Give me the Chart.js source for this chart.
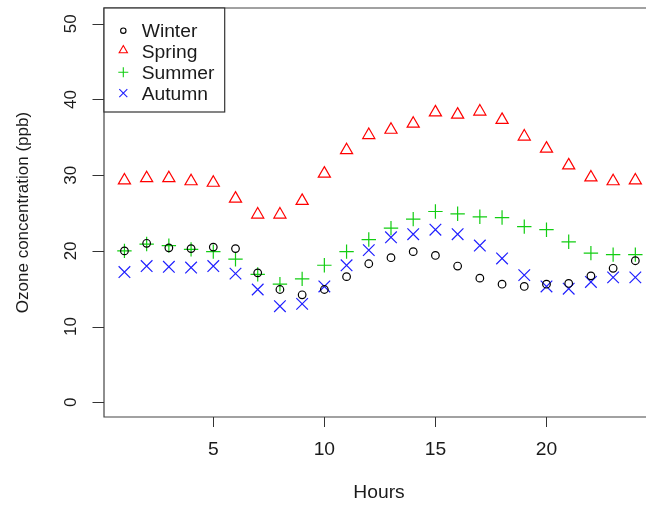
<!DOCTYPE html>
<html>
<head>
<meta charset="utf-8">
<script src="https://cdn.jsdelivr.net/npm/chart.js@4.4.0/dist/chart.umd.min.js"></script>
<style>
  html, body { margin: 0; padding: 0; background: #fff; }
  #wrap { width: 646px; height: 505px; }
</style>
</head>
<body>
<div id="wrap"><canvas id="ozone" width="646" height="505"></canvas></div>
<script>
const hours = [1, 2, 3, 4, 5, 6, 7, 8, 9, 10, 11, 12, 13, 14, 15, 16, 17, 18, 19, 20, 21, 22, 23, 24];
const winter = [20.0, 21.0, 20.4, 20.3, 20.5, 20.3, 17.1, 14.9, 14.2, 14.9, 16.6, 18.3, 19.1, 19.9, 19.4, 18.0, 16.4, 15.6, 15.3, 15.6, 15.7, 16.7, 17.7, 18.7];
const spring = [29.3, 29.6, 29.6, 29.2, 29.0, 26.9, 24.8, 24.8, 26.6, 30.2, 33.3, 35.3, 36.0, 36.8, 38.3, 38.0, 38.4, 37.3, 35.1, 33.5, 31.3, 29.7, 29.2, 29.3];
const summer = [20.0, 20.9, 20.7, 20.2, 19.9, 18.9, 16.9, 15.6, 16.3, 18.1, 19.9, 21.5, 23.0, 24.2, 25.2, 24.9, 24.5, 24.4, 23.2, 22.8, 21.2, 19.7, 19.5, 19.5];
const autumn = [17.2, 18.0, 17.9, 17.8, 18.0, 17.0, 14.9, 12.7, 13.0, 15.3, 18.1, 20.1, 21.8, 22.2, 22.8, 22.2, 20.7, 19.0, 16.8, 15.3, 15.0, 15.9, 16.5, 16.5];
const xTicks = [5, 10, 15, 20];
const yTicks = [0, 10, 20, 30, 40, 50];
const seasons = ['Winter', 'Spring', 'Summer', 'Autumn'];

const FONT = '"Liberation Sans", Arial, sans-serif';
const INK = '#1a1a1a';

const series = [
    { label: 'Winter', values: winter, color: '#000000', style: 'circle', radius: 3.8 },
    { label: 'Spring', values: spring, color: '#ff0000', style: 'triangle', radius: 7 },
    { label: 'Summer', values: summer, color: '#12cd12', style: 'cross', radius: 7.2 },
    { label: 'Autumn', values: autumn, color: '#1f1fff', style: 'crossRot', radius: 8.2 }
];

// texte legerement elargi comme dans l'image d'origine
function wideText(ctx, txt, x, y, sx) {
    ctx.save();
    ctx.translate(x, y);
    ctx.scale(sx, 1);
    ctx.fillText(txt, 0, 0);
    ctx.restore();
}

function legendMark(ctx, style, color, x, y) {
    ctx.save();
    ctx.strokeStyle = color;
    ctx.lineWidth = 1.1;
    ctx.beginPath();
    if (style === 'circle') {
        ctx.arc(x, y, 2.7, 0, Math.PI * 2);
    } else if (style === 'triangle') {
        const r = 4.8, cy = y - r / 4;
        ctx.moveTo(x, cy - r);
        ctx.lineTo(x + r * 0.866, cy + r / 2);
        ctx.lineTo(x - r * 0.866, cy + r / 2);
        ctx.closePath();
    } else if (style === 'cross') {
        ctx.moveTo(x - 5, y); ctx.lineTo(x + 5, y);
        ctx.moveTo(x, y - 5); ctx.lineTo(x, y + 5);
    } else {
        ctx.moveTo(x - 4, y - 4); ctx.lineTo(x + 4, y + 4);
        ctx.moveTo(x - 4, y + 4); ctx.lineTo(x + 4, y - 4);
    }
    ctx.stroke();
    ctx.restore();
}

// Axes, cadre et legende facon R base graphics
const rAxesPlugin = {
    id: 'rAxes',
    afterDatasetsDraw(chart) {
        const { ctx, chartArea } = chart;
        const xs = chart.scales.x;
        const ys = chart.scales.y;
        const L = chartArea.left, T = chartArea.top, B = chartArea.bottom, R = chart.width;

        ctx.save();
        // cadre (le bord droit est coupe)
        ctx.strokeStyle = '#444';
        ctx.lineWidth = 1.2;
        ctx.beginPath();
        ctx.moveTo(R, T); ctx.lineTo(L, T); ctx.lineTo(L, B); ctx.lineTo(R, B);
        ctx.stroke();

        // graduations
        ctx.strokeStyle = '#333';
        ctx.lineWidth = 1;
        ctx.beginPath();
        xTicks.forEach(v => {
            const px = Math.round(xs.getPixelForValue(v)) + 0.5;
            ctx.moveTo(px, B); ctx.lineTo(px, B + 10);
        });
        yTicks.forEach(v => {
            const py = Math.round(ys.getPixelForValue(v)) + 0.5;
            ctx.moveTo(L, py); ctx.lineTo(L - 11.5, py);
        });
        ctx.stroke();

        ctx.fillStyle = INK;
        ctx.font = '18px ' + FONT;
        ctx.textAlign = 'center';
        ctx.textBaseline = 'alphabetic';
        xTicks.forEach(v => wideText(ctx, String(v), xs.getPixelForValue(v), 454.8, 1.07));
        wideText(ctx, 'Hours', 379, 498, 1.07);

        ctx.font = '17px ' + FONT;
        yTicks.forEach(v => {
            ctx.save();
            ctx.translate(76, ys.getPixelForValue(v));
            ctx.rotate(-Math.PI / 2);
            ctx.fillText(String(v), 0, 0);
            ctx.restore();
        });
        ctx.save();
        ctx.translate(28, (T + B) / 2);
        ctx.rotate(-Math.PI / 2);
        ctx.fillText('Ozone concentration (ppb)', 0, 0);
        ctx.restore();

        // legende
        ctx.fillStyle = '#fff';
        ctx.fillRect(L, T, 120.7, 104);
        ctx.strokeStyle = '#333';
        ctx.lineWidth = 1.2;
        ctx.strokeRect(L, T, 120.7, 104);
        ctx.font = '18px ' + FONT;
        ctx.textAlign = 'left';
        series.forEach((s, i) => {
            const rowY = 30.7 + i * 20.8;
            legendMark(ctx, s.style, s.color, 123.3, rowY);
            ctx.fillStyle = INK;
            wideText(ctx, seasons[i], 141.7, rowY + 6.4, 1.07);
        });
        ctx.restore();
    }
};

document.addEventListener('DOMContentLoaded', () => {
    const ctx = document.getElementById('ozone').getContext('2d');

    new Chart(ctx, {
        type: 'scatter',
        data: {
            datasets: series.map(s => ({
                label: s.label,
                data: hours.map((h, i) => ({ x: h, y: s.values[i] })),
                pointStyle: s.style,
                pointRadius: s.radius,
                pointHoverRadius: s.radius,
                pointBackgroundColor: 'rgba(0,0,0,0)',
                pointBorderColor: s.color,
                pointBorderWidth: 1.2,
                showLine: false
            }))
        },
        options: {
            responsive: false,
            devicePixelRatio: 1,
            animation: false,
            layout: {
                autoPadding: false,
                padding: { left: 104, top: 8, right: 0, bottom: 88 }
            },
            plugins: {
                legend: { display: false },
                tooltip: { enabled: false }
            },
            scales: {
                x: { type: 'linear', display: false, min: 0.08, max: 24.48 },
                y: { type: 'linear', display: false, min: -1.94, max: 52.08 }
            }
        },
        plugins: [rAxesPlugin]
    });
});
</script>
</body>
</html>
